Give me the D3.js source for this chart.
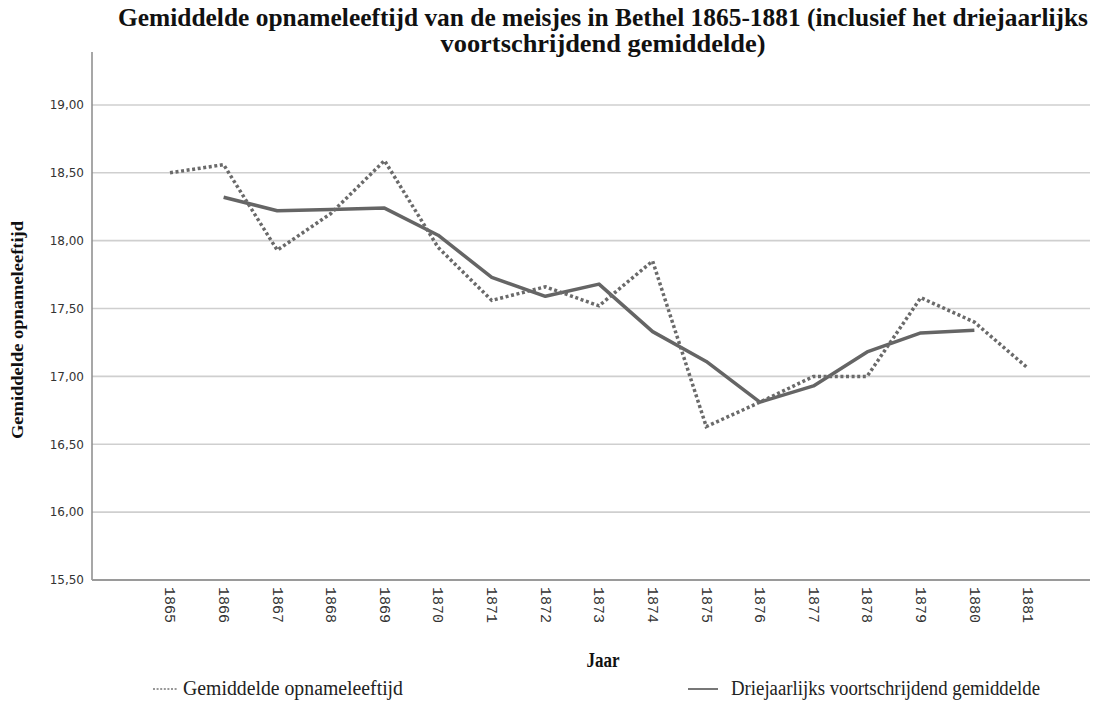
<!DOCTYPE html>
<html>
<head>
<meta charset="utf-8">
<script src="https://cdn.jsdelivr.net/npm/d3@7"></script>
<style>
  html, body { margin: 0; padding: 0; background: #fff; }
  svg { display: block; }
</style>
</head>
<body>
<svg id="chart" width="1106" height="702"></svg>
<script>
const years = ["1865","1866","1867","1868","1869","1870","1871","1872","1873","1874","1875","1876","1877","1878","1879","1880","1881"];
const gemiddelde = [18.50, 18.56, 17.93, 18.20, 18.59, 17.95, 17.56, 17.66, 17.52, 17.85, 16.63, 16.81, 17.00, 17.00, 17.58, 17.40, 17.06];
const voortschrijdend = [null, 18.32, 18.22, 18.23, 18.24, 18.04, 17.73, 17.59, 17.68, 17.33, 17.11, 16.81, 16.93, 17.18, 17.32, 17.34, null];
const yTicks = [15.5, 16.0, 16.5, 17.0, 17.5, 18.0, 18.5, 19.0];
const titleLines = ["Gemiddelde opnameleeftijd van de meisjes in Bethel 1865-1881 (inclusief het driejaarlijks", "voortschrijdend gemiddelde)"];
const seriesNames = ["Gemiddelde opnameleeftijd", "Driejaarlijks voortschrijdend gemiddelde"];
const xTitle = "Jaar";
const yTitle = "Gemiddelde opnameleeftijd";

(function () {
const svg = d3.select("#chart");
const pl = 92, pr = 1090, pt = 52, pb = 580;

const x = d3.scalePoint().domain(years).range([170, 1028]);
const y = d3.scaleLinear().domain([15.5, 19.39]).range([pb, pt]);

const serif = "'Liberation Serif', 'DejaVu Serif', 'Times New Roman', serif";

// gridlines
svg.append("g").selectAll("line")
  .data(yTicks.filter(d => d > 15.5))
  .join("line")
  .attr("x1", pl).attr("x2", pr)
  .attr("y1", d => y(d)).attr("y2", d => y(d))
  .attr("stroke", "#cfcfcf").attr("stroke-width", 1.6);

// y axis
const yAxis = d3.axisLeft(y).tickValues(yTicks).tickSize(0).tickPadding(8)
  .tickFormat(d => d3.format(".2f")(d).replace(".", ","));
const gy = svg.append("g").attr("transform", `translate(${pl},0)`).call(yAxis);
gy.select(".domain").remove();
gy.selectAll("text")
  .attr("font-family", "'DejaVu Sans', Verdana, sans-serif")
  .attr("font-size", 12).attr("fill", "#333");

svg.append("line").attr("x1", pl).attr("x2", pl).attr("y1", pt).attr("y2", pb)
  .attr("stroke", "#8a8a8a").attr("stroke-width", 1.5);

// x axis
const xAxis = d3.axisBottom(x).tickSize(0).tickPadding(0);
const gx = svg.append("g").attr("transform", `translate(0,${pb})`).call(xAxis);
gx.select(".domain").remove();
gx.selectAll("text")
  .attr("font-family", "'Liberation Mono', 'DejaVu Sans Mono', monospace")
  .attr("font-size", 15).attr("fill", "#333")
  .attr("text-anchor", "start")
  .attr("transform", "translate(0,7) rotate(90)")
  .attr("x", 0).attr("y", 0).attr("dy", "0.35em");

svg.append("line").attr("x1", pl).attr("x2", pr).attr("y1", pb).attr("y2", pb)
  .attr("stroke", "#9a9a9a").attr("stroke-width", 2.2);

// lines
const line = d3.line()
  .defined(d => d.v != null)
  .x(d => x(d.year)).y(d => y(d.v));

const gemData = years.map((yr, i) => ({year: yr, v: gemiddelde[i]}));
const avgData = years.map((yr, i) => ({year: yr, v: voortschrijdend[i]}));

svg.append("path").datum(avgData).attr("d", line)
  .attr("fill", "none").attr("stroke", "#656565").attr("stroke-width", 3.5)
  .attr("stroke-linejoin", "round");
svg.append("path").datum(gemData).attr("d", line)
  .attr("fill", "none").attr("stroke", "#6a6a6a").attr("stroke-width", 3.5)
  .attr("stroke-dasharray", "3,2.6");

// title
const tg = svg.append("g").attr("font-family", serif).attr("font-weight", "bold")
  .attr("font-size", 21).attr("fill", "#111").attr("text-anchor", "middle");
tg.append("text").attr("transform", "translate(603,26) scale(1,1.2)").text(titleLines[0])
  .attr("textLength", 970).attr("lengthAdjust", "spacingAndGlyphs");
tg.append("text").attr("transform", "translate(603,52) scale(1,1.2)").text(titleLines[1])
  .attr("textLength", 325).attr("lengthAdjust", "spacingAndGlyphs");

// axis titles
svg.append("text").attr("transform", "translate(23,330) rotate(-90) scale(1,1.1)")
  .attr("text-anchor", "middle").attr("font-family", serif).attr("font-weight", "bold")
  .attr("font-size", 16).attr("fill", "#111").text(yTitle)
  .attr("textLength", 218).attr("lengthAdjust", "spacingAndGlyphs");

svg.append("text").attr("transform", "translate(603,667) scale(1,1.25)")
  .attr("text-anchor", "middle").attr("font-family", serif).attr("font-weight", "bold")
  .attr("font-size", 17).attr("fill", "#111").text(xTitle);

// legend
const lg = svg.append("g").attr("font-family", serif).attr("font-size", 16).attr("fill", "#222");
lg.append("line").attr("x1", 153).attr("x2", 178).attr("y1", 689).attr("y2", 689)
  .attr("stroke", "#777").attr("stroke-width", 1.6).attr("stroke-dasharray", "2,1.6");
lg.append("text").attr("transform", "translate(183,695) scale(1,1.25)").text(seriesNames[0])
  .attr("textLength", 220).attr("lengthAdjust", "spacingAndGlyphs");
lg.append("line").attr("x1", 688).attr("x2", 718).attr("y1", 689).attr("y2", 689)
  .attr("stroke", "#777").attr("stroke-width", 2);
lg.append("text").attr("transform", "translate(731,695) scale(1,1.25)").text(seriesNames[1])
  .attr("textLength", 309).attr("lengthAdjust", "spacingAndGlyphs");
})();
</script>
</body>
</html>
